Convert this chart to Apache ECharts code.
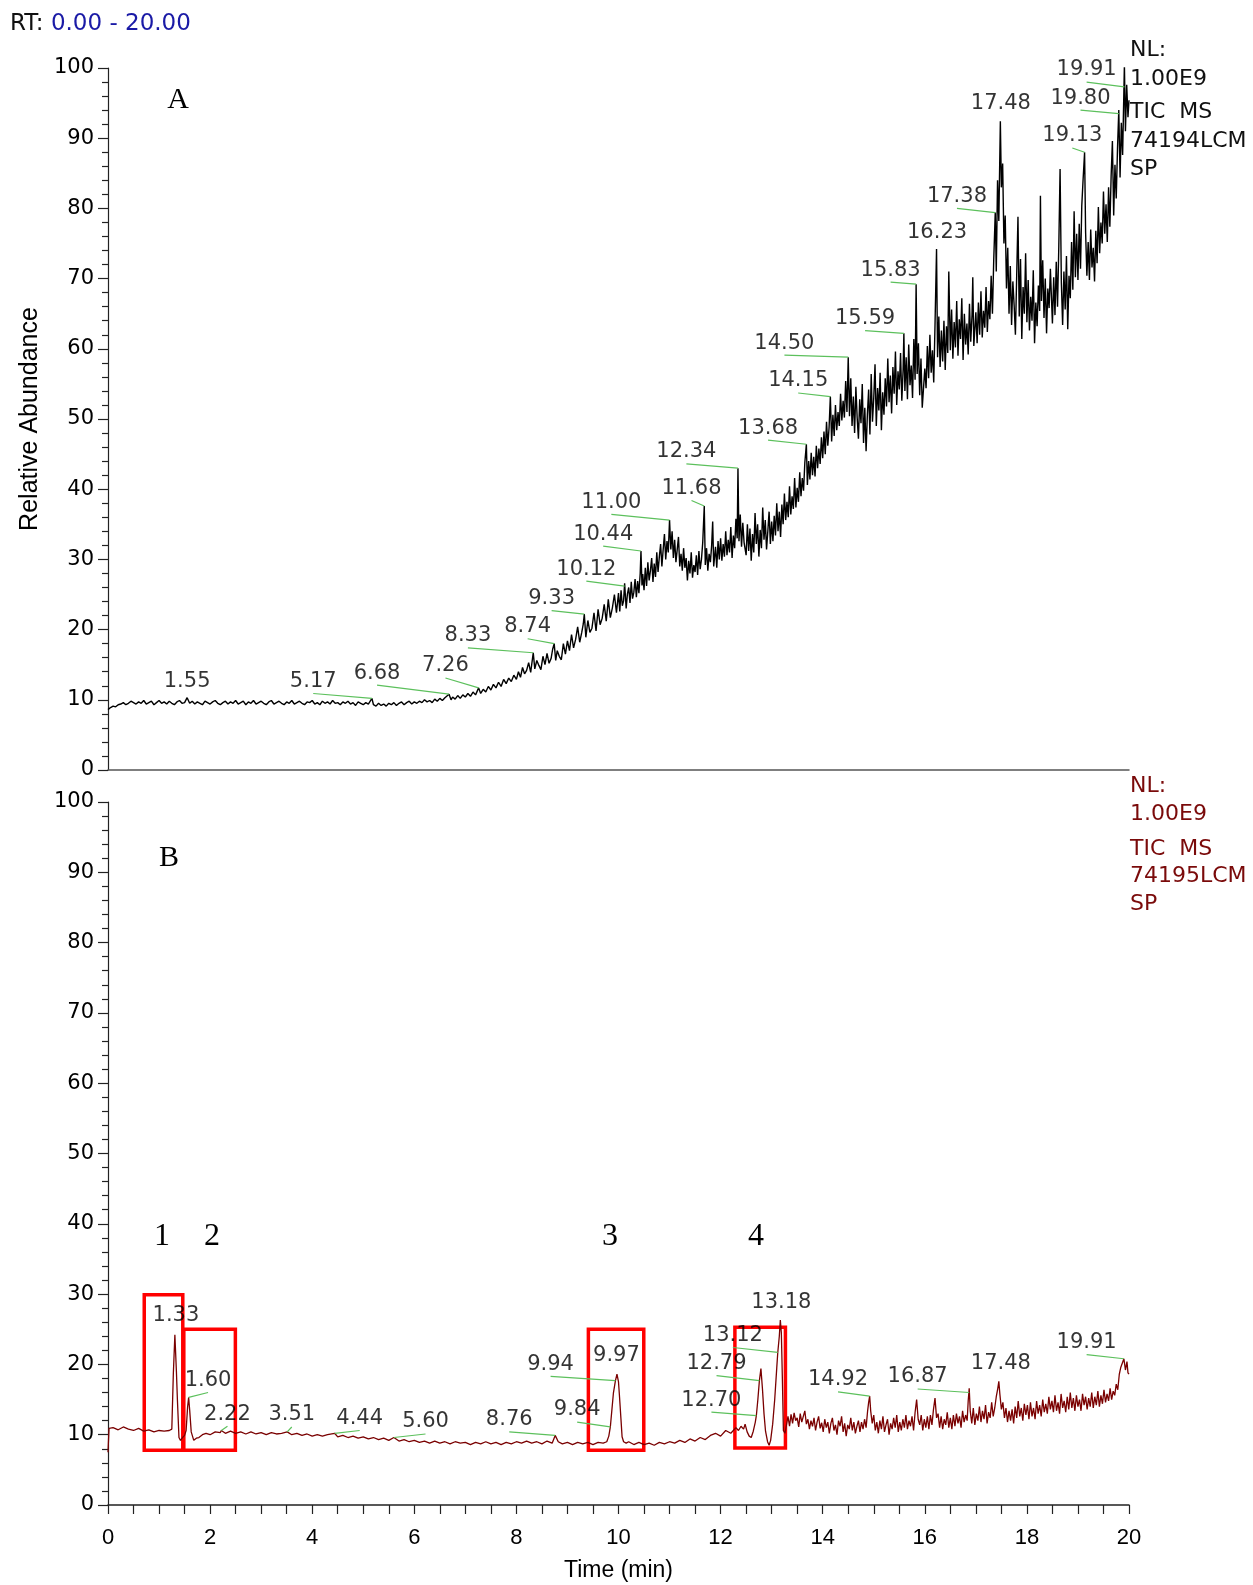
<!DOCTYPE html>
<html>
<head>
<meta charset="utf-8">
<script src="https://cdn.jsdelivr.net/npm/echarts@6/dist/echarts.min.js"></script>
<style>
html,body{margin:0;padding:0;background:#fff;}
#c{width:1253px;height:1585px;}
</style>
</head>
<body>
<div id="c"></div>
<script>
// ---------------- DATA ----------------
// Panel A trace (time min, relative abundance)
const traceA = [
[0,8.6],[0.05,8.9],[0.1,9.1],[0.15,9.0],[0.2,9.3],[0.25,9.4],[0.3,9.6],[0.35,9.3],[0.4,9.5],[0.45,9.8],[0.5,9.6],[0.55,9.4],[0.6,9.7],[0.65,9.5],[0.7,9.9],[0.75,9.4],[0.8,9.6],[0.85,9.8],[0.9,9.3],[0.95,9.6],
[1.0,9.9],[1.05,9.5],[1.1,9.7],[1.15,9.4],[1.2,9.8],[1.25,9.5],[1.3,9.3],[1.35,9.7],[1.4,9.9],[1.45,9.5],[1.5,9.6],[1.55,10.3],[1.6,9.5],[1.65,9.8],[1.7,9.4],[1.75,9.7],[1.8,9.5],[1.85,9.3],[1.9,9.8],[1.95,9.6],
[2.0,9.4],[2.05,9.7],[2.1,9.9],[2.15,9.5],[2.2,9.3],[2.25,9.6],[2.3,9.8],[2.35,9.4],[2.4,9.7],[2.45,9.5],[2.5,9.9],[2.55,9.4],[2.6,9.6],[2.65,9.8],[2.7,9.3],[2.75,9.7],[2.8,9.5],[2.85,9.9],[2.9,9.4],[2.95,9.6],
[3.0,9.8],[3.05,9.5],[3.1,9.3],[3.15,9.7],[3.2,9.9],[3.25,9.4],[3.3,9.6],[3.35,9.8],[3.4,9.5],[3.45,9.3],[3.5,9.7],[3.55,9.5],[3.6,9.9],[3.65,9.4],[3.7,9.6],[3.75,9.8],[3.8,9.5],[3.85,9.3],[3.9,9.7],[3.95,9.6],
[4.0,9.9],[4.05,9.4],[4.1,9.6],[4.15,9.3],[4.2,9.8],[4.25,9.5],[4.3,9.7],[4.35,9.4],[4.4,9.9],[4.45,9.5],[4.5,9.6],[4.55,9.3],[4.6,9.7],[4.65,9.5],[4.7,9.8],[4.75,9.4],[4.8,9.6],[4.85,9.2],[4.9,9.7],[4.95,9.5],
[5.0,9.3],[5.05,9.6],[5.1,9.4],[5.17,10.2],[5.2,9.3],[5.25,9.1],[5.3,9.5],[5.35,9.2],[5.4,9.4],[5.45,9.1],[5.5,9.5],[5.55,9.3],[5.6,9.6],[5.65,9.2],[5.7,9.5],[5.75,9.7],[5.8,9.3],[5.85,9.6],[5.9,9.8],[5.95,9.4],
[6.0,9.7],[6.05,9.5],[6.1,9.8],[6.15,9.6],[6.2,10.0],[6.25,9.7],[6.3,9.9],[6.35,9.6],[6.4,10.1],[6.45,9.8],[6.5,10.2],[6.55,9.9],[6.6,10.3],[6.68,10.8],[6.72,10.0],[6.75,10.4],[6.8,10.1],[6.85,10.6],[6.9,10.2],[6.95,10.7],
[7.0,10.4],[7.05,10.9],[7.1,10.5],[7.15,11.1],[7.2,10.7],[7.26,11.7],[7.3,10.9],[7.35,11.5],[7.4,11.1],[7.45,11.9],[7.5,11.4],[7.55,12.2],[7.6,11.7],[7.65,12.5],[7.7,11.9],[7.75,12.9],[7.8,12.3],[7.85,13.1],[7.9,12.6],[7.95,13.5],
[8.0,12.9],[8.04,14.0],[8.08,13.2],[8.12,14.6],[8.16,13.7],[8.2,14.2],[8.24,15.3],[8.28,13.9],[8.33,16.7],[8.36,14.4],[8.4,15.6],[8.44,14.9],[8.48,14.3],[8.52,16.2],[8.56,15.0],[8.6,16.6],[8.64,15.2],[8.68,15.9],[8.71,17.2],[8.74,18.0],
[8.77,15.6],[8.8,17.0],[8.84,16.2],[8.88,15.7],[8.92,18.0],[8.96,16.5],[9.0,18.4],[9.04,17.0],[9.08,19.3],[9.12,17.4],[9.16,18.6],[9.2,20.4],[9.24,18.2],[9.28,19.6],[9.31,20.8],[9.33,22.2],[9.36,18.9],[9.4,21.3],[9.44,19.6],[9.48,20.2],
[9.52,22.4],[9.56,19.8],[9.6,22.9],[9.64,20.7],[9.68,21.6],[9.72,23.6],[9.76,21.2],[9.8,24.3],[9.84,21.7],[9.88,23.1],[9.92,25.0],[9.96,22.4],[10.0,25.2],
[10.025,22.6],[10.05,25.6],[10.075,23.4],[10.1,24.1],[10.12,26.6],[10.15,23.0],[10.175,25.1],[10.2,26.0],[10.225,23.8],[10.25,26.8],[10.275,24.4],[10.3,25.3],[10.325,27.2],[10.35,24.6],[10.375,26.9],[10.4,25.2],[10.425,28.0],[10.44,31.2],[10.46,26.3],[10.475,27.9],[10.5,25.6],
[10.525,28.8],[10.55,26.2],[10.575,29.6],[10.6,27.0],[10.625,28.4],[10.65,30.2],[10.675,26.8],[10.7,29.4],[10.725,27.5],[10.75,31.0],[10.775,28.2],[10.8,30.4],[10.825,32.2],[10.85,29.0],[10.875,31.4],[10.9,33.6],[10.925,30.0],[10.95,32.6],[10.975,31.0],[11.0,35.6],
[11.025,31.4],[11.05,34.0],[11.075,30.2],[11.1,32.8],[11.125,29.6],[11.15,31.4],[11.175,33.2],[11.2,29.0],[11.225,30.8],[11.25,28.4],[11.275,31.6],[11.3,28.8],[11.325,30.2],[11.35,27.0],[11.375,29.8],[11.4,28.0],[11.425,31.0],[11.45,27.4],[11.475,29.2],[11.5,28.2],
[11.525,30.6],[11.55,27.8],[11.575,31.2],[11.6,28.6],[11.625,30.0],[11.65,32.4],[11.68,37.6],[11.7,29.2],[11.725,31.6],[11.75,28.4],[11.775,30.8],[11.8,29.6],[11.825,32.0],[11.845,35.4],[11.865,29.0],[11.9,31.8],[11.925,28.8],[11.95,32.6],[11.975,30.0],[12.0,33.0],
[12.025,29.8],[12.05,32.2],[12.075,30.4],[12.1,34.0],[12.125,30.6],[12.15,32.8],[12.175,31.0],[12.2,34.6],[12.225,30.2],[12.25,33.4],[12.275,31.6],[12.3,35.8],[12.325,33.0],[12.34,43.0],[12.36,32.6],[12.385,36.4],[12.41,31.8],[12.435,35.2],[12.46,32.4],[12.5,30.6],
[12.525,35.0],[12.55,31.2],[12.575,34.4],[12.6,29.8],[12.625,33.6],[12.65,31.0],[12.675,36.6],[12.7,32.2],[12.725,35.0],[12.75,30.4],[12.775,34.2],[12.8,31.6],[12.825,37.4],[12.85,32.8],[12.875,35.6],[12.9,31.4],[12.925,34.0],[12.95,36.8],[12.975,32.2],[13.0,35.4],
[13.025,32.6],[13.05,36.2],[13.075,33.4],[13.1,38.0],[13.125,34.0],[13.15,36.8],[13.175,33.2],[13.2,37.8],[13.225,35.0],[13.25,39.4],[13.275,35.6],[13.3,38.2],[13.325,36.0],[13.35,40.4],[13.375,36.4],[13.4,39.0],[13.425,37.2],[13.45,41.6],[13.475,37.4],[13.5,40.2],
[13.525,38.2],[13.55,42.4],[13.575,39.0],[13.6,41.6],[13.625,39.8],[13.65,43.8],[13.68,46.4],[13.7,40.6],[13.725,44.0],[13.75,41.4],[13.775,45.2],[13.8,42.0],[13.825,44.6],[13.85,41.8],[13.875,46.2],[13.9,43.0],[13.925,45.8],[13.95,43.6],[13.975,47.4],[14.0,44.4],
[14.025,48.2],[14.05,45.0],[14.075,49.6],[14.1,46.2],[14.125,48.8],[14.15,53.2],[14.175,46.8],[14.2,50.6],[14.225,47.6],[14.25,52.0],[14.275,48.4],[14.3,51.0],[14.325,49.0],[14.35,53.6],[14.375,49.8],[14.4,52.6],[14.425,50.2],[14.45,55.4],[14.475,51.0],[14.5,58.8],
[14.525,50.4],[14.55,55.8],[14.575,49.0],[14.6,53.2],[14.625,48.0],[14.65,54.6],[14.675,50.2],[14.7,47.2],[14.725,52.8],[14.75,49.4],[14.775,55.0],[14.8,46.6],[14.825,51.6],[14.85,45.4],[14.875,50.6],[14.9,54.2],[14.925,47.8],[14.95,56.4],[14.975,49.6],[15.0,53.0],
[15.025,57.8],[15.05,49.0],[15.075,54.4],[15.1,51.2],[15.125,56.6],[15.15,48.4],[15.175,53.8],[15.2,50.6],[15.225,55.8],[15.25,51.8],[15.275,58.6],[15.3,52.4],[15.325,56.2],[15.35,50.8],[15.375,57.4],[15.4,53.6],[15.425,59.6],[15.45,52.0],[15.475,56.8],[15.5,54.2],
[15.525,59.4],[15.55,52.6],[15.575,57.0],[15.59,62.2],[15.61,54.0],[15.635,58.8],[15.66,52.8],[15.685,60.6],[15.71,54.8],[15.735,57.6],[15.76,53.0],[15.785,61.4],[15.81,55.6],[15.83,69.2],[15.85,56.4],[15.875,60.8],[15.9,53.4],[15.925,58.6],[15.95,51.6],[16.0,57.2],
[16.025,54.4],[16.05,60.4],[16.075,55.8],[16.1,62.0],[16.125,56.6],[16.15,59.8],[16.175,55.2],[16.2,63.4],[16.23,74.2],[16.25,58.8],[16.275,64.6],[16.3,57.4],[16.325,62.6],[16.35,58.2],[16.375,64.0],[16.4,57.0],[16.425,63.2],[16.45,59.4],[16.47,71.0],[16.5,59.8],
[16.525,65.6],[16.55,58.6],[16.575,63.8],[16.6,60.2],[16.625,66.8],[16.65,59.0],[16.675,64.2],[16.7,61.4],[16.725,67.2],[16.75,58.4],[16.775,65.0],[16.8,60.6],[16.825,63.6],[16.85,59.2],[16.875,66.4],[16.9,61.0],[16.925,64.8],[16.94,70.2],[16.96,60.4],[17.0,65.2],
[17.025,60.8],[17.05,66.6],[17.075,62.0],[17.1,68.2],[17.125,61.6],[17.15,65.4],[17.175,63.0],[17.2,68.8],[17.225,62.4],[17.25,66.8],[17.275,64.2],[17.3,70.4],[17.325,65.0],[17.35,72.6],[17.38,79.4],[17.4,71.0],[17.425,84.0],[17.45,78.2],[17.48,92.4],[17.5,83.0],
[17.525,86.4],[17.55,75.0],[17.575,79.0],[17.6,68.6],[17.625,74.4],[17.65,65.0],[17.675,71.8],[17.7,63.4],[17.725,69.6],[17.75,66.2],[17.775,62.0],[17.8,70.4],[17.825,78.8],[17.85,64.6],[17.875,72.8],[17.9,61.4],[17.925,68.8],[17.95,65.0],[17.975,73.6],[18.0,63.8],
[18.025,69.8],[18.05,62.6],[18.075,67.4],[18.1,64.0],[18.125,71.2],[18.15,60.8],[18.175,66.6],[18.2,63.2],[18.225,69.0],[18.25,65.4],[18.265,81.8],[18.285,66.8],[18.31,72.6],[18.335,64.4],[18.36,70.0],[18.385,62.2],[18.41,68.6],[18.435,65.8],[18.46,71.4],[18.5,63.6],
[18.525,70.2],[18.55,64.8],[18.575,72.4],[18.6,66.0],[18.625,74.6],[18.65,85.6],[18.675,69.4],[18.7,63.4],[18.725,71.0],[18.75,65.6],[18.775,73.2],[18.8,62.8],[18.825,70.4],[18.85,67.2],[18.875,75.2],[18.9,68.4],[18.925,79.6],[18.95,70.2],[18.975,76.4],[19.0,69.8],
[19.025,77.8],[19.05,71.4],[19.075,80.4],[19.1,84.0],[19.13,88.0],[19.15,76.6],[19.175,70.4],[19.2,75.2],[19.225,69.8],[19.25,77.0],[19.275,71.6],[19.3,74.4],[19.325,69.6],[19.35,76.8],[19.375,72.2],[19.4,80.2],[19.425,73.6],[19.45,78.0],[19.475,75.0],[19.5,82.4],
[19.525,76.4],[19.55,80.6],[19.575,75.2],[19.6,83.0],[19.625,77.4],[19.65,84.6],[19.675,89.6],[19.7,79.0],[19.725,86.2],[19.75,81.4],[19.775,88.6],[19.8,94.0],[19.825,84.4],[19.85,92.2],[19.875,87.6],[19.9,96.8],[19.91,100.5],[19.93,91.0],[19.955,97.6],[19.98,93.0],[20.0,95.4]
];

// Panel B trace
const traceB = [
[0,7.5],[0.02,10.9],[0.1,11.0],[0.2,10.7],[0.3,11.1],[0.4,10.8],[0.5,10.6],[0.6,10.9],[0.7,10.5],[0.8,10.7],[0.9,10.4],
[1.0,10.6],[1.1,10.5],[1.2,10.6],[1.25,10.8],[1.28,18.7],[1.31,24.2],[1.34,19.0],[1.36,14.9],[1.39,9.6],[1.42,9.2],
[1.46,9.6],[1.5,9.9],[1.53,10.6],[1.56,14.0],[1.58,15.3],[1.6,13.5],[1.63,10.4],[1.68,9.2],[1.73,9.5],[1.78,9.6],
[1.85,10.0],[1.92,10.2],[2.0,10.0],[2.1,10.4],[2.2,10.3],[2.22,10.6],[2.3,10.2],[2.4,10.5],[2.5,10.2],[2.6,10.4],
[2.7,10.1],[2.8,10.4],[2.9,10.1],[3.0,10.3],[3.1,10.0],[3.2,10.3],[3.3,10.1],[3.4,10.2],[3.51,10.4],[3.6,10.0],
[3.7,10.2],[3.8,9.9],[3.9,10.1],[4.0,9.8],[4.1,10.0],[4.2,9.8],[4.3,10.0],[4.44,10.2],[4.5,9.7],[4.6,9.9],
[4.7,9.6],[4.8,9.8],[4.9,9.5],[5.0,9.7],[5.1,9.4],[5.2,9.6],[5.3,9.3],[5.4,9.5],[5.5,9.2],[5.6,9.6],
[5.7,9.1],[5.8,9.3],[5.9,9.0],[6.0,9.2],[6.1,8.9],[6.2,9.1],[6.3,8.8],[6.4,9.1],[6.5,8.8],[6.6,9.0],
[6.7,8.7],[6.8,9.0],[6.9,8.8],[7.0,8.9],[7.1,8.6],[7.2,8.9],[7.3,8.7],[7.4,9.0],[7.5,8.7],[7.6,8.9],
[7.7,8.6],[7.8,8.9],[7.9,8.7],[8.0,9.0],[8.1,8.8],[8.2,9.1],[8.3,8.8],[8.4,9.0],[8.5,8.7],[8.6,9.1],
[8.7,8.8],[8.76,9.9],[8.82,9.0],[8.9,8.7],[9.0,8.9],[9.1,8.6],[9.2,8.9],[9.3,8.7],[9.4,8.9],[9.5,8.6],
[9.6,8.9],[9.7,8.8],[9.77,9.0],[9.81,9.8],[9.84,11.1],[9.87,13.5],[9.9,15.9],[9.94,17.7],[9.97,18.6],[10.0,17.5],
[10.02,15.4],[10.05,12.0],[10.07,9.7],[10.1,9.0],[10.15,8.8],[10.2,9.0],[10.3,8.6],[10.4,8.9],[10.5,8.6],[10.6,8.8],
[10.7,8.5],[10.8,8.9],[10.9,8.7],[11.0,9.0],[11.1,8.8],[11.2,9.2],[11.3,8.9],[11.4,9.4],[11.5,9.1],[11.6,9.6],
[11.7,9.3],[11.8,9.9],[11.9,10.2],[12.0,9.8],[12.1,10.6],[12.2,10.2],[12.3,11.0],[12.35,10.6],[12.4,11.2],[12.45,10.8],
[12.48,11.5],[12.52,10.4],[12.56,9.8],[12.6,9.6],[12.64,10.5],[12.68,11.8],[12.7,12.7],[12.73,15.0],[12.76,17.7],[12.79,19.4],
[12.82,16.5],[12.85,13.0],[12.88,10.5],[12.92,9.0],[12.95,8.5],[12.98,9.2],[13.02,11.5],[13.06,15.0],[13.1,19.5],[13.12,21.7],
[13.15,24.0],[13.17,26.3],[13.19,24.5],[13.21,18.0],[13.23,10.6],
[13.26,10.2],[13.29,11.4],[13.32,12.6],[13.35,11.2],[13.38,12.9],[13.41,11.6],[13.44,13.1],[13.47,12.0],[13.5,12.4],[13.53,11.1],[13.56,13.0],[13.59,11.8],[13.62,12.6],[13.65,13.4],[13.68,11.5],[13.71,12.2],[13.74,10.8],[13.77,12.0],[13.8,11.2],[13.83,12.4],
[13.86,10.6],[13.89,11.8],[13.92,12.6],[13.95,10.9],[13.98,11.7],[14.01,10.4],[14.04,12.2],[14.07,11.0],[14.1,11.8],[14.13,10.2],[14.16,11.6],[14.19,12.4],[14.22,10.6],[14.25,11.4],[14.28,10.0],[14.31,12.0],[14.34,11.2],[14.37,12.6],[14.4,10.4],[14.43,11.6],
[14.46,9.8],[14.49,11.4],[14.52,10.8],[14.55,12.4],[14.58,10.6],[14.61,11.8],[14.64,10.2],[14.67,11.2],[14.7,12.0],[14.73,10.4],[14.76,11.8],[14.79,10.8],[14.82,12.2],[14.85,11.0],[14.88,13.4],[14.9,14.6],[14.92,15.5],[14.94,13.4],[14.97,11.6],[15.0,12.8],
[15.03,10.6],[15.06,11.8],[15.09,10.2],[15.12,12.0],[15.15,10.8],[15.18,12.6],[15.21,10.4],[15.24,11.4],[15.27,12.2],[15.3,10.0],[15.33,11.6],[15.36,10.8],[15.39,12.4],[15.42,11.0],[15.45,12.8],[15.48,10.4],[15.51,11.8],[15.54,10.6],[15.57,12.2],[15.6,11.0],
[15.63,12.8],[15.66,10.8],[15.69,12.0],[15.72,11.2],[15.75,12.6],[15.78,10.6],[15.81,13.2],[15.84,15.0],[15.87,12.2],[15.9,11.4],[15.93,12.8],[15.96,10.6],[15.99,12.2],[16.02,11.0],[16.05,12.6],[16.08,10.8],[16.11,12.8],[16.14,11.4],[16.17,13.6],[16.2,15.2],
[16.23,12.4],[16.26,13.0],[16.29,11.0],[16.32,12.6],[16.35,10.8],[16.38,12.2],[16.41,11.4],[16.44,13.2],[16.47,11.0],[16.5,12.4],[16.53,10.8],[16.56,12.8],[16.59,11.2],[16.62,13.0],[16.65,11.6],[16.68,12.6],[16.71,11.0],[16.74,13.4],[16.77,11.8],[16.8,12.8],
[16.83,12.0],[16.85,14.8],[16.87,16.6],[16.89,13.4],[16.92,11.6],[16.95,13.8],[16.98,11.4],[17.01,13.0],[17.04,12.0],[17.07,14.0],[17.1,11.8],[17.13,13.4],[17.16,12.2],[17.19,14.2],[17.22,11.6],[17.25,13.2],[17.28,12.4],[17.31,14.6],[17.34,12.6],[17.37,13.8],
[17.4,15.4],[17.43,16.6],[17.45,17.6],[17.47,15.8],[17.5,13.6],[17.53,14.6],[17.56,12.4],[17.59,13.8],[17.62,11.8],[17.65,13.4],[17.68,12.0],[17.71,13.6],[17.74,11.6],[17.77,14.0],[17.8,12.4],[17.83,14.8],[17.86,12.6],[17.89,13.8],[17.92,12.0],[17.95,14.4],
[17.98,12.8],[18.01,14.2],[18.04,12.2],[18.07,14.6],[18.1,12.6],[18.13,13.8],[18.16,12.2],[18.19,14.8],[18.22,13.0],[18.25,14.2],[18.28,12.6],[18.31,15.0],[18.34,13.2],[18.37,14.4],[18.4,13.0],[18.43,15.4],[18.46,13.6],[18.49,14.8],[18.52,13.2],[18.55,15.6],
[18.58,13.4],[18.61,14.6],[18.64,13.0],[18.67,15.8],[18.7,13.8],[18.73,14.8],[18.76,13.2],[18.79,15.4],[18.82,13.6],[18.85,16.0],[18.88,13.8],[18.91,15.2],[18.94,13.4],[18.97,15.6],[19.0,14.0],[19.03,15.0],[19.06,13.4],[19.09,15.8],[19.12,14.2],[19.15,15.4],
[19.18,13.6],[19.21,15.2],[19.24,14.0],[19.27,16.0],[19.3,13.8],[19.33,15.4],[19.36,14.2],[19.39,16.2],[19.42,14.0],[19.45,15.6],[19.48,14.4],[19.51,16.4],[19.54,14.6],[19.57,15.8],[19.6,14.8],[19.63,16.6],[19.66,15.0],[19.69,16.2],[19.72,15.6],[19.75,17.2],
[19.78,16.4],[19.81,18.6],[19.84,19.6],[19.87,20.2],[19.9,20.8],[19.93,19.2],[19.96,20.4],[19.98,18.8],[20.0,18.6]
];

// Peak annotations, panel A
const peakTextA = ['1.55','5.17','6.68','7.26','8.33','8.74','9.33','10.12','10.44','11.00','11.68','12.34','13.68','14.15','14.50','15.59','15.83','16.23','17.38','17.48','19.13','19.80','19.91'];
const peakRtA   = [1.55,5.17,6.68,7.26,8.33,8.74,9.33,10.12,10.44,11.00,11.68,12.34,13.68,14.15,14.50,15.59,15.83,16.23,17.38,17.48,19.13,19.80,19.91];
const peakAbA   = [10.3,10.2,10.8,11.7,16.7,18.0,22.2,26.2,31.2,35.6,37.6,43.0,46.4,53.2,58.8,62.2,69.2,74.2,79.4,92.4,88.0,93.5,97.3];
const tagRtA    = [1.55,4.02,5.27,6.61,7.05,8.22,8.69,9.37,9.70,9.86,11.43,11.33,12.93,13.52,13.25,14.83,15.33,16.24,16.63,17.49,18.89,19.05,19.17];
const tagAbA    = [10.9,10.9,12.1,13.1,17.4,18.7,22.7,26.9,31.9,36.4,38.4,43.6,47.0,53.7,59.1,62.6,69.5,74.8,80.0,93.2,88.6,94.0,98.0];

// Peak annotations, panel B
const peakTextB = ['1.33','1.60','2.22','3.51','4.44','5.60','8.76','9.84','9.94','9.97','12.70','12.79','13.12','13.18','14.92','16.87','17.48','19.91'];
const peakRtB   = [1.31,1.58,2.22,3.51,4.44,5.60,8.76,9.84,9.94,9.97,12.70,12.76,13.12,13.17,14.92,16.87,17.45,19.90];
const peakAbB   = [24.2,15.3,10.6,10.4,10.2,9.6,9.9,11.1,17.7,18.6,12.7,17.7,21.7,26.3,15.5,16.0,17.6,20.8];
const tagRtB    = [1.33,1.96,2.34,3.60,4.93,6.22,7.86,9.19,8.67,9.96,11.82,11.92,12.24,13.19,14.30,15.86,17.49,19.17];
const tagAbB    = [25.2,16.0,11.2,11.1,10.6,10.1,10.4,11.8,18.3,19.6,13.2,18.4,22.4,27.1,16.1,16.5,18.4,21.4];

// Highlight boxes in panel B: [rtStart, rtEnd, abLow, abHigh]
const boxesB = [[0.71,1.465,7.8,29.9],[1.485,2.495,7.8,25.0],[9.41,10.495,7.8,25.0],[12.28,13.27,8.1,25.3]];

// ---------------- CHART ----------------
const SANS = "'DejaVu Sans', Verdana, sans-serif";
const chart = echarts.init(document.getElementById('c'), null, {renderer: 'canvas'});

function tagSeries(texts, prt, pab, trt, tab, xi) {
  const pts = texts.map((t, i) => ({name: t, value: [trt[i], tab[i]]}));
  const lines = [];
  texts.forEach((t, i) => {
    if (Math.abs(trt[i] - prt[i]) > 0.08) {
      lines.push([{coord: [trt[i], tab[i]]}, {coord: [prt[i], pab[i]]}]);
    }
  });
  return {
    type: 'scatter', xAxisIndex: xi, yAxisIndex: xi, data: pts,
    symbolSize: 1, itemStyle: {color: 'rgba(0,0,0,0)'}, silent: true, z: 5,
    label: {show: true, position: 'top', distance: 1, formatter: '{b}', color: '#000',
            fontFamily: SANS, fontSize: 21},
    markLine: {silent: true, symbol: ['none', 'none'], animation: false,
               label: {show: false},
               lineStyle: {color: '#5cc05c', width: 1.2, type: 'solid'},
               emphasis: {disabled: true}, data: lines}
  };
}

const yAxisBase = (gi) => ({
  gridIndex: gi, type: 'value', min: 0, max: 100, interval: 10,
  axisLine: {show: true, lineStyle: {color: '#222', width: 1.2}},
  axisTick: {show: true, length: 10, lineStyle: {color: '#222', width: 1.2}},
  minorTick: {show: true, splitNumber: 5, length: 6, lineStyle: {color: '#222', width: 1.2}},
  axisLabel: {fontFamily: SANS, fontSize: 21, color: '#000', margin: 14},
  splitLine: {show: false}, minorSplitLine: {show: false}
});

const INFO = "22px 'DejaVu Sans'";
const SERIF = "'Liberation Serif', 'Times New Roman', serif";

const option = {
  animation: false,
  backgroundColor: '#fff',
  grid: [
    {left: 108, top: 68, width: 1021, height: 702},
    {left: 108, top: 802, width: 1021, height: 703}
  ],
  xAxis: [
    {gridIndex: 0, type: 'value', min: 0, max: 20, interval: 2,
     axisLine: {show: true, onZero: false, lineStyle: {color: '#555', width: 1.5}},
     axisTick: {show: false}, axisLabel: {show: false}, splitLine: {show: false}},
    {gridIndex: 1, type: 'value', min: 0, max: 20, interval: 0.5,
     axisLine: {show: true, onZero: false, lineStyle: {color: '#222', width: 1.5}},
     axisTick: {show: true, length: 9, lineStyle: {color: '#222', width: 1.2}},
     axisLabel: {formatter: v => (Math.abs(v % 2) < 1e-9 ? String(v) : ''),
                 fontFamily: "'Liberation Sans Narrow', 'Arial Narrow', 'Liberation Sans', sans-serif",
                 fontSize: 22, color: '#000', margin: 22},
     splitLine: {show: false},
     name: 'Time (min)', nameLocation: 'middle', nameGap: 54,
     nameTextStyle: {fontFamily: "'Liberation Sans', Arial, sans-serif", fontSize: 23, color: '#000'}}
  ],
  yAxis: [
    Object.assign(yAxisBase(0), {name: 'Relative Abundance', nameLocation: 'middle', nameGap: 60, nameRotate: 90,
      nameTextStyle: {fontFamily: "'Liberation Sans', Arial, sans-serif", fontSize: 25, color: '#000'}}),
    yAxisBase(1)
  ],
  series: [
    {type: 'line', xAxisIndex: 0, yAxisIndex: 0, data: traceA, showSymbol: false, symbol: 'none',
     lineStyle: {color: '#000', width: 1.4}, silent: true, z: 3},
    {type: 'line', xAxisIndex: 1, yAxisIndex: 1, data: traceB, showSymbol: false, symbol: 'none',
     lineStyle: {color: '#7a0000', width: 1.3}, silent: true, z: 3,
     markArea: {silent: true, animation: false,
       itemStyle: {color: 'rgba(0,0,0,0)', borderColor: '#ff0000', borderWidth: 3.5},
       data: boxesB.map(b => [{coord: [b[0], b[3]]}, {coord: [b[1], b[2]]}])}},
    tagSeries(peakTextA, peakRtA, peakAbA, tagRtA, tagAbA, 0),
    tagSeries(peakTextB, peakRtB, peakAbB, tagRtB, tagAbB, 1)
  ],
  graphic: [
    {type: 'text', left: 10, top: 13, style: {rich: {a: {fill: '#111', fontFamily: SANS, fontSize: 23}, b: {fill: '#1a1aa6', fontFamily: SANS, fontSize: 23}},
      text: '{a|RT: }{b|0.00 - 20.00}'}},
    {type: 'text', left: 1130, top: 39, style: {text: 'NL:', fill: '#111', font: INFO}},
    {type: 'text', left: 1130, top: 68, style: {text: '1.00E9', fill: '#111', font: INFO}},
    {type: 'text', left: 1130, top: 101, style: {text: 'TIC  MS', fill: '#111', font: INFO}},
    {type: 'text', left: 1130, top: 130, style: {text: '74194LCM', fill: '#111', font: INFO}},
    {type: 'text', left: 1130, top: 158, style: {text: 'SP', fill: '#111', font: INFO}},
    {type: 'text', left: 1130, top: 775, style: {text: 'NL:', fill: '#7a0a0a', font: INFO}},
    {type: 'text', left: 1130, top: 803, style: {text: '1.00E9', fill: '#7a0a0a', font: INFO}},
    {type: 'text', left: 1130, top: 838, style: {text: 'TIC  MS', fill: '#7a0a0a', font: INFO}},
    {type: 'text', left: 1130, top: 865, style: {text: '74195LCM', fill: '#7a0a0a', font: INFO}},
    {type: 'text', left: 1130, top: 893, style: {text: 'SP', fill: '#7a0a0a', font: INFO}},
    {type: 'text', x: 178, y: 100, style: {text: 'A', fill: '#000', font: "30px " + SERIF, align: 'center', verticalAlign: 'middle'}},
    {type: 'text', x: 169, y: 858, style: {text: 'B', fill: '#000', font: "30px " + SERIF, align: 'center', verticalAlign: 'middle'}},
    {type: 'text', x: 162, y: 1237, style: {text: '1', fill: '#000', font: "32px " + SERIF, align: 'center', verticalAlign: 'middle'}},
    {type: 'text', x: 212, y: 1237, style: {text: '2', fill: '#000', font: "32px " + SERIF, align: 'center', verticalAlign: 'middle'}},
    {type: 'text', x: 610, y: 1237, style: {text: '3', fill: '#000', font: "32px " + SERIF, align: 'center', verticalAlign: 'middle'}},
    {type: 'text', x: 756, y: 1237, style: {text: '4', fill: '#000', font: "32px " + SERIF, align: 'center', verticalAlign: 'middle'}}
  ]
};
chart.setOption(option);
</script>
</body>
</html>
